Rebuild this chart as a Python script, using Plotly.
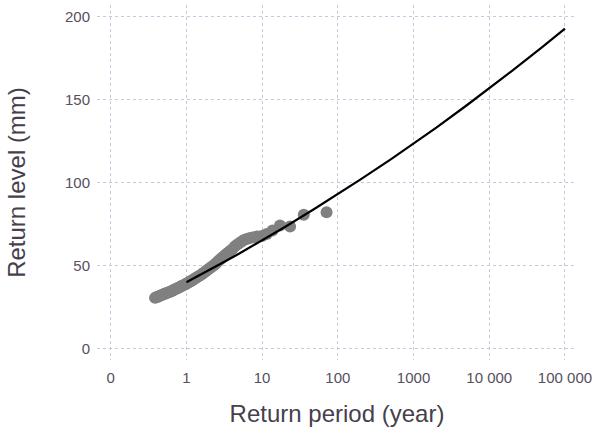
import plotly.graph_objects as go

# Observed annual maxima: return period (year) and return level (mm)
obs_period = [0.385, 0.40, 0.42, 0.44, 0.46, 0.48, 0.50, 0.52, 0.54, 0.57, 0.60, 0.63,
              0.66, 0.69, 0.72, 0.76, 0.80, 0.84, 0.88, 0.93, 0.98, 1.03, 1.09, 1.15,
              1.21, 1.28, 1.35, 1.43, 1.51, 1.60, 1.70, 1.80, 1.91, 2.03, 2.16, 2.30,
              2.45, 2.62, 2.80, 3.00, 3.22, 3.46, 3.73, 4.03, 4.37, 4.75, 5.18, 5.68,
              6.25, 6.92, 7.72, 8.70, 9.93, 11.5, 13.7, 17.2, 23.4, 35.5, 71.0]
obs_level = [30.5, 30.8, 31.2, 31.6, 32.0, 32.4, 32.7, 33.0, 33.3, 33.7, 34.1, 34.5,
             34.9, 35.4, 35.8, 36.3, 36.8, 37.3, 37.8, 38.3, 38.9, 39.5, 40.1, 40.7,
             41.3, 42.0, 42.6, 43.3, 44.0, 44.8, 45.6, 46.5, 47.4, 48.3, 49.2, 50.2,
             51.2, 52.5, 53.8, 55.0, 56.2, 57.3, 58.5, 59.8, 61.5, 62.8, 64.0, 65.2,
             66.0, 66.6, 67.0, 67.4, 67.8, 69.0, 71.0, 74.0, 73.5, 80.5, 82.0]

# Fitted return level curve
fit_period = [1, 1.5, 2, 3, 5, 7, 10, 20, 50, 100, 200, 500, 1000, 2000, 5000,
              10000, 20000, 50000, 100000]
fit_level = [39.9, 44.1, 47.2, 51.6, 57.2, 61.0, 65.1, 73.2, 84.3, 92.9, 101.8, 113.9,
             123.3, 133.0, 146.3, 156.6, 167.2, 181.5, 192.6]

x_tickvals = [0.1, 1, 10, 100, 1000, 10000, 100000]
x_ticktext = ["0", "1", "10", "100", "1000", "10 000", "100 000"]
y_tickvals = [0, 50, 100, 150, 200]

grid_color = "#cac6de"
tick_color = "#574f5e"
title_color = "#463f4c"
font_family = "Liberation Sans, Arial, sans-serif"

fig = go.Figure()
fig.add_trace(go.Scatter(
    x=obs_period, y=obs_level, mode="markers",
    marker=dict(color="#808080", size=12, line=dict(width=0)),
    showlegend=False, hoverinfo="skip",
))
fig.add_trace(go.Scatter(
    x=fit_period, y=fit_level, mode="lines",
    line=dict(color="black", width=2.2, shape="linear"),
    showlegend=False, hoverinfo="skip",
))

fig.update_layout(
    width=600, height=438,
    margin=dict(l=97, r=23, t=5, b=78),
    paper_bgcolor="white", plot_bgcolor="white",
    font=dict(family=font_family, color=tick_color, size=15),
    xaxis=dict(
        type="log", range=[-1.181, 5.159],
        tickvals=x_tickvals, ticktext=x_ticktext,
        showgrid=True, gridcolor=grid_color, griddash="3px,3px", gridwidth=1,
        zeroline=False, showline=False, ticks="",
        ticklabelstandoff=7,
        tickfont=dict(size=15, color=tick_color),
        title=dict(text="Return period (year)", standoff=20,
                   font=dict(size=24, color=title_color)),
    ),
    yaxis=dict(
        range=[-6.9, 206.8],
        tickvals=y_tickvals,
        showgrid=True, gridcolor=grid_color, griddash="3px,3px", gridwidth=1,
        zeroline=False, showline=False, ticks="",
        ticklabelstandoff=6,
        tickfont=dict(size=15, color=tick_color),
        title=dict(text="Return level (mm)", standoff=32,
                   font=dict(size=24, color=title_color)),
    ),
)

fig.write_html("out.html", config={"displayModeBar": False},
               post_script="document.body.style.margin='0';")
